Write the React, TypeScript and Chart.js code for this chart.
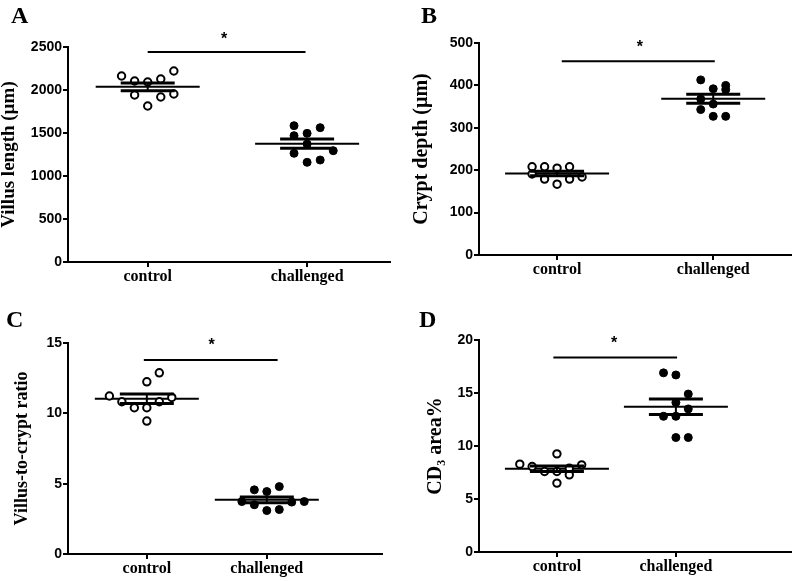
import React, { useEffect, useRef } from 'react';
import Chart from 'chart.js/auto';

// ---------- data ----------
const groupLabels = ['control', 'challenged'];

// A: villus length (µm)
const villusControl = [2163, 2105, 2093, 2128, 2221, 1942, 1919, 1953, 1814];
const villusControlSlots = [-2, -1, 0, 1, 2, -1, 1, 2, 0];
const villusChallenged = [1585, 1469, 1496, 1562, 1372, 1264, 1294, 1186, 1159];
const villusChallengedSlots = [-1, -1, 0, 1, 0, -1, 2, 1, 0];
const villusTicks = [0, 500, 1000, 1500, 2000, 2500];

// B: crypt depth (µm)
const cryptControl = [208, 208, 205, 208, 191, 179, 167, 179, 184];
const cryptControlSlots = [-2, -1, 0, 1, -2, -1, 0, 1, 2];
const cryptChallenged = [413, 392, 400, 390, 368, 356, 343, 327, 327];
const cryptChallengedSlots = [-1, 0, 1, 1, -1, 0, -1, 0, 1];
const cryptTicks = [0, 100, 200, 300, 400, 500];

// C: villus-to-crypt ratio
const ratioControl = [11.23, 10.82, 10.4, 10.4, 12.24, 12.88, 10.82, 11.13, 9.45];
const ratioControlSlots = [-3, -2, -1, 0, 0, 1, 1, 2, 0];
const ratioChallenged = [4.56, 4.44, 4.79, 3.73, 3.5, 3.09, 3.16, 3.69, 3.73];
const ratioChallengedSlots = [-1, 0, 1, -2, -1, 0, 1, 2, 3];
const ratioTicks = [0, 5, 10, 15];

// D: CD3 area %
const cd3Control = [8.29, 8.06, 7.59, 9.26, 7.59, 7.28, 7.91, 8.22, 6.5];
const cd3ControlSlots = [-3, -2, -1, 0, 0, 1, 1, 2, 0];
const cd3Challenged = [16.9, 16.7, 14.9, 14.1, 13.5, 12.8, 12.8, 10.8, 10.8];
const cd3ChallengedSlots = [-1, 0, 1, 0, 1, -1, 0, 0, 1];
const cd3Ticks = [0, 5, 10, 15, 20];

// significance bars: [x from, x to, y level, star x, star y]
const villusSig = [1.0, 1.99, 2442, 1.48, 2640];
const cryptSig = [1.03, 2.01, 457, 1.53, 501];
const ratioSig = [0.975, 2.09, 13.8, 1.54, 15.15];
const cd3Sig = [0.97, 2.01, 18.36, 1.48, 20.15];

// ---------- layout / style ----------
const SERIF = '"Liberation Serif", "Times New Roman", "DejaVu Serif", serif';
const SANS = '"Liberation Sans", Arial, "DejaVu Sans", sans-serif';

type Panel = {
  key: string;
  left: number; top: number; w: number; h: number;
  title: string; titleSize: number;
  ticks: number[];
  xMin: number; xMax: number; jitter: number;
  control: number[]; controlSlots: number[];
  challenged: number[]; challengedSlots: number[];
  sig: number[];
  pad: { left: number; top: number; right: number; bottom: number };
  yWidth: number; xHeight: number;
  letterLeft: number; letterTop: number;
};

const panels: Panel[] = [
  {
    key: 'A', left: 0, top: 0, w: 397, h: 290, title: 'Villus length (µm)', titleSize: 19, ticks: villusTicks,
    xMin: 0.5, xMax: 2.52, jitter: 0.082,
    control: villusControl, controlSlots: villusControlSlots,
    challenged: villusChallenged, challengedSlots: villusChallengedSlots, sig: villusSig,
    pad: { left: 0, top: 47, right: 7, bottom: 0 }, yWidth: 68, xHeight: 28,
    letterLeft: 11, letterTop: 3,
  },
  {
    key: 'B', left: 397, top: 0, w: 400, h: 290, title: 'Crypt depth (µm)', titleSize: 20, ticks: cryptTicks,
    xMin: 0.5, xMax: 2.5, jitter: 0.08,
    control: cryptControl, controlSlots: cryptControlSlots,
    challenged: cryptChallenged, challengedSlots: cryptChallengedSlots, sig: cryptSig,
    pad: { left: 15, top: 43, right: 5, bottom: 0 }, yWidth: 67, xHeight: 35,
    letterLeft: 421, letterTop: 3,
  },
  {
    key: 'C', left: 0, top: 290, w: 397, h: 291, title: 'Villus-to-crypt ratio', titleSize: 18, ticks: ratioTicks,
    xMin: 0.343, xMax: 2.96, jitter: 0.104,
    control: ratioControl, controlSlots: ratioControlSlots,
    challenged: ratioChallenged, challengedSlots: ratioChallengedSlots, sig: ratioSig,
    pad: { left: 13, top: 53, right: 15, bottom: 0 }, yWidth: 55, xHeight: 27,
    letterLeft: 6, letterTop: 307,
  },
  {
    key: 'D', left: 397, top: 290, w: 400, h: 291, title: 'CD₃ area%', titleSize: 20, ticks: cd3Ticks,
    xMin: 0.345, xMax: 2.97, jitter: 0.104,
    control: cd3Control, controlSlots: cd3ControlSlots,
    challenged: cd3Challenged, challengedSlots: cd3ChallengedSlots, sig: cd3Sig,
    pad: { left: 29, top: 50, right: 3, bottom: 0 }, yWidth: 53, xHeight: 29,
    letterLeft: 419, letterTop: 307,
  },
];

const MEAN_HALF_PX = 52;
const SEM_HALF_PX = 27;

function meanOf(v: number[]) {
  return v.reduce((a, b) => a + b, 0) / v.length;
}
function semOf(v: number[]) {
  const m = meanOf(v);
  const ss = v.reduce((a, b) => a + (b - m) * (b - m), 0);
  return Math.sqrt(ss / (v.length - 1)) / Math.sqrt(v.length);
}

function buildChart(canvas: HTMLCanvasElement, p: Panel) {
  const controlPts = p.control.map((v, i) => ({ x: 1 + p.controlSlots[i] * p.jitter, y: v }));
  const challengedPts = p.challenged.map((v, i) => ({ x: 2 + p.challengedSlots[i] * p.jitter, y: v }));
  const groups = [p.control, p.challenged];

  const statsPlugin = {
    id: 'stats' + p.key,
    beforeDatasetsDraw(chart: any) {
      const { ctx, scales } = chart;
      const xs = scales.x, ys = scales.y;
      ctx.save();
      ctx.strokeStyle = '#000';
      ctx.lineWidth = 2;
      groups.forEach((vals, gi) => {
        const cx = xs.getPixelForValue(gi + 1);
        const my = ys.getPixelForValue(meanOf(vals));
        ctx.beginPath();
        ctx.moveTo(cx - MEAN_HALF_PX, my);
        ctx.lineTo(cx + MEAN_HALF_PX, my);
        ctx.stroke();
      });
      ctx.restore();
    },
    afterDatasetsDraw(chart: any) {
      const { ctx, scales } = chart;
      const xs = scales.x, ys = scales.y;
      ctx.save();
      ctx.strokeStyle = '#000';
      groups.forEach((vals, gi) => {
        const cx = xs.getPixelForValue(gi + 1);
        const m = meanOf(vals), s = semOf(vals);
        const yHi = ys.getPixelForValue(m + s);
        const yLo = ys.getPixelForValue(m - s);
        ctx.lineWidth = 2;
        ctx.beginPath();
        ctx.moveTo(cx, yHi);
        ctx.lineTo(cx, yLo);
        ctx.stroke();
        ctx.lineWidth = 3;
        ctx.beginPath();
        ctx.moveTo(cx - SEM_HALF_PX, yHi);
        ctx.lineTo(cx + SEM_HALF_PX, yHi);
        ctx.moveTo(cx - SEM_HALF_PX, yLo);
        ctx.lineTo(cx + SEM_HALF_PX, yLo);
        ctx.stroke();
      });
      // significance bar
      const [x1, x2, yv, sx, sy] = p.sig;
      ctx.lineWidth = 2;
      ctx.beginPath();
      const py = ys.getPixelForValue(yv);
      ctx.moveTo(xs.getPixelForValue(x1), py);
      ctx.lineTo(xs.getPixelForValue(x2), py);
      ctx.stroke();
      const fs = 16;
      ctx.font = `bold ${fs}px ${SANS}`;
      ctx.fillStyle = '#000';
      ctx.textAlign = 'center';
      ctx.textBaseline = 'alphabetic';
      ctx.fillText('*', xs.getPixelForValue(sx), ys.getPixelForValue(sy) + 0.575 * fs);
      ctx.restore();
    },
  };

  const maxY = p.ticks[p.ticks.length - 1];

  return new Chart(canvas, {
    type: 'scatter',
    data: {
      datasets: [
        {
          label: groupLabels[0],
          data: controlPts,
          pointRadius: 3.7,
          pointHoverRadius: 3.7,
          pointBorderWidth: 2,
          pointBorderColor: '#000',
          pointBackgroundColor: '#fff',
        },
        {
          label: groupLabels[1],
          data: challengedPts,
          pointRadius: 4,
          pointHoverRadius: 4,
          pointBorderWidth: 1,
          pointBorderColor: '#000',
          pointBackgroundColor: '#000',
        },
      ],
    },
    options: {
      responsive: false,
      animation: false,
      events: [],
      layout: { padding: p.pad },
      plugins: {
        legend: { display: false },
        tooltip: { enabled: false },
        title: { display: false },
      },
      scales: {
        x: {
          type: 'linear',
          min: p.xMin,
          max: p.xMax,
          afterBuildTicks: (scale: any) => {
            scale.ticks = [{ value: 1 }, { value: 2 }];
          },
          afterFit: (scale: any) => {
            scale.height = p.xHeight;
          },
          ticks: {
            color: '#000',
            padding: 0,
            autoSkip: false,
            maxRotation: 0,
            font: { family: SERIF, size: 16, weight: 'bold' },
            callback: (v: any) => groupLabels[Math.round(Number(v)) - 1] ?? '',
          },
          grid: {
            display: true,
            drawOnChartArea: false,
            drawTicks: true,
            tickLength: 5,
            lineWidth: 2,
            color: '#000',
          },
          border: { display: true, width: 2, color: '#000' },
        },
        y: {
          type: 'linear',
          min: 0,
          max: maxY,
          afterFit: (scale: any) => {
            scale.width = p.yWidth;
          },
          afterBuildTicks: (scale: any) => {
            scale.ticks = p.ticks.map((v) => ({ value: v }));
          },
          ticks: {
            color: '#000',
            padding: 1,
            font: { family: SANS, size: 14, weight: 'bold' },
            callback: (v: any) => String(v),
          },
          grid: {
            display: true,
            drawOnChartArea: false,
            drawTicks: true,
            tickLength: 5,
            lineWidth: 2,
            color: '#000',
          },
          border: { display: true, width: 2, color: '#000' },
          title: {
            display: true,
            text: p.title,
            color: '#000',
            padding: 0,
            font: { family: SERIF, size: p.titleSize, weight: 'bold', lineHeight: 1 },
          },
        },
      },
    },
    plugins: [statsPlugin],
  } as any);
}

function PanelChart({ p }: { p: Panel }) {
  const ref = useRef<HTMLCanvasElement | null>(null);
  useEffect(() => {
    if (!ref.current) return;
    const chart = buildChart(ref.current, p);
    return () => chart.destroy();
  }, [p]);
  return (
    <canvas
      ref={ref}
      width={p.w}
      height={p.h}
      style={{ position: 'absolute', left: p.left, top: p.top, width: p.w, height: p.h }}
    />
  );
}

export default function App() {
  return (
    <div style={{ position: 'absolute', left: 0, top: 0, width: 797, height: 581, background: '#fff', overflow: 'hidden' }}>
      {panels.map((p) => (
        <PanelChart key={p.key} p={p} />
      ))}
      {panels.map((p) => (
        <div
          key={'L' + p.key}
          style={{
            position: 'absolute',
            left: p.letterLeft,
            top: p.letterTop,
            fontFamily: SERIF,
            fontWeight: 'bold',
            fontSize: 24,
            lineHeight: 1,
            color: '#000',
          }}
        >
          {p.key}
        </div>
      ))}
    </div>
  );
}
